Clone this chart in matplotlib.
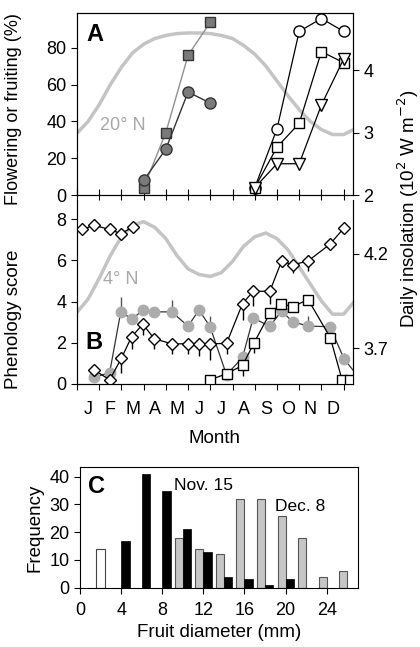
import numpy as np
import matplotlib.pyplot as plt

plt.rcParams['font.family'] = ['Liberation Sans', 'DejaVu Sans']
plt.rcParams['font.size'] = 13

month_labels = ['J', 'F', 'M', 'A', 'M', 'J', 'J', 'A', 'S', 'O', 'N', 'D']

# --- A: flowering / fruiting (%) ---
a_gray_m = [3, 4, 5, 6]
a_gray_sq = [4, 34, 76, 94]
a_gray_ci = [8, 25, 56, 50]
a_open_m = [8, 9, 10, 11, 12]
a_open_ci = [4, 36, 89, 96, 89]
a_open_sq = [4, 26, 39, 78, 72]
a_open_tri = [4, 17, 17, 49, 74]

# insolation curves, read every half month
ins_m = np.arange(0, 12.51, 0.5)
ins_20n = [2.99, 3.18, 3.45, 3.77, 4.05, 4.28, 4.42, 4.51, 4.56, 4.59, 4.60, 4.60, 4.59,
           4.56, 4.51, 4.40, 4.26, 4.07, 3.83, 3.59, 3.37, 3.18, 3.05, 2.97, 2.97, 3.06]
ins_4n = [3.89, 3.96, 4.07, 4.19, 4.29, 4.35, 4.37, 4.34, 4.28, 4.19, 4.12, 4.09, 4.08,
          4.10, 4.16, 4.24, 4.29, 4.31, 4.28, 4.22, 4.13, 4.04, 3.95, 3.88, 3.88, 3.95]

# --- B: phenology score ---
b_top_m = [0.23, 0.77, 1.47, 1.97, 2.5]
b_top_dia = [7.5, 7.7, 7.5, 7.3, 7.6]
b_dia_m = [0.75, 1.47, 2.0, 2.46, 2.97, 3.47, 4.26, 5.0, 5.49, 5.99, 6.73, 7.45, 7.93,
           8.68, 9.21, 9.7, 10.4, 11.38, 12.03]
b_dia = [0.7, 0.2, 1.25, 2.3, 2.9, 2.2, 1.95, 1.95, 1.95, 1.95, 1.97, 3.9, 4.5, 4.5,
         5.97, 5.78, 5.97, 6.78, 7.59]
b_dia_err = [0.3, 0.1, 0.7, 0.6, 0.5, 0.5, 0.5, 0.5, 0.6, 0.8, 0.5, 0.8, 0.7, 0.6,
             0.3, 0.4, 0.5, 0.3, 0.3]
b_ci_m = [0.77, 1.47, 1.97, 2.48, 2.97, 3.47, 4.26, 5.0, 5.49, 5.99, 6.73, 7.45, 7.93,
          8.68, 9.21, 9.7, 10.4, 11.38, 12.03, 12.7]
b_ci = [0.32, 0.55, 3.5, 3.15, 3.59, 3.5, 3.5, 2.81, 3.59, 2.78, 0.44, 1.29, 3.2,
        2.8, 3.55, 3.02, 2.81, 2.78, 1.2, 0.3]
b_ci_err = [0, 0, 0.7, 0, 0.2, 0, 0.6, 0, 0, 0.5, 0, 0, 0, 0, 0.4, 0, 0.5, 0, 0.3, 0]
b_sq_m = [5.99, 6.73, 7.45, 7.97, 8.68, 9.2, 9.7, 10.4, 11.4, 11.93, 12.3]
b_sq = [0.2, 0.5, 0.9, 2.0, 3.43, 3.9, 3.75, 4.1, 2.25, 0.2, 0.2]
b_sq_err = [0, 0, 0.5, 0.5, 0, 0, 0, 0, 0, 0, 0]

# --- C: fruit diameter histogram ---
early_diam = [2]
early_freq = [14]
nov_diam = [4, 6, 8, 10, 12, 14, 16, 18, 20]
nov_freq = [17, 41, 35, 21, 13, 4, 3, 1, 3]
dec_diam = [10, 12, 14, 16, 18, 20, 22, 24, 26]
dec_freq = [18, 14, 12, 32, 32, 26, 18, 4, 6]

curve_col = '#c4c4c4'
fig = plt.figure(figsize=(4.2, 6.47), dpi=100)

# ---------------- panel A ----------------
axA = fig.add_axes([0.1833, 0.6986, 0.6571, 0.2813])
axA2 = axA.twinx()
axA.set_zorder(axA2.get_zorder() + 1)
axA.patch.set_visible(False)
axA2.plot(ins_m, ins_20n, color=curve_col, lw=2.5, solid_joinstyle='round')
axA2.set_ylim(2, 4.92)
axA2.set_yticks([2, 3, 4])

axA.plot(a_gray_m, a_gray_sq, '-s', color='#909090', mfc='#7a7a7a', mec='#333333', ms=6.5, lw=1)
axA.plot(a_gray_m, a_gray_ci, '-o', color='#333333', mfc='#7a7a7a', mec='#333333', ms=8, lw=1)
axA.plot(a_open_m, a_open_ci, '-o', color='k', mfc='white', mec='k', ms=8, lw=0.9)
axA.plot(a_open_m, a_open_sq, '-s', color='k', mfc='white', mec='k', ms=7, lw=0.9)
axA.plot(a_open_m, a_open_tri, '-v', color='k', mfc='white', mec='k', ms=8.5, lw=0.9)
axA.set_xlim(0, 12.42)
axA.set_ylim(0, 99)
axA.set_yticks([0, 20, 40, 60, 80])
axA.set_xticks(range(13))
axA.set_xticklabels([])
axA.tick_params(axis='x', direction='in', length=4)
axA.tick_params(axis='y', direction='out', length=4)
axA2.tick_params(axis='y', direction='out', length=4)
axA.set_ylabel('Flowering or fruiting (%)')
axA.yaxis.set_label_coords(-0.2, 0.47)
axA.text(0.035, 0.88, 'A', transform=axA.transAxes, fontsize=17, fontweight='bold', va='center')
axA.text(0.083, 0.38, '20° N', transform=axA.transAxes, color='#a8a8a8', fontsize=13, va='center')

# ---------------- panel B ----------------
axB = fig.add_axes([0.1833, 0.4065, 0.6571, 0.2844])
axB2 = axB.twinx()
axB.set_zorder(axB2.get_zorder() + 1)
axB.patch.set_visible(False)
axB2.plot(ins_m, ins_4n, color=curve_col, lw=2.5, solid_joinstyle='round')
axB2.set_ylim(3.51, 4.485)
axB2.set_yticks([3.7, 4.2])
axB2.set_yticklabels(['3.7', '4.2'])

axB.plot(b_top_m, b_top_dia, '-D', color='k', mfc='white', mec='k', ms=6.5, lw=0.9)
axB.errorbar(b_ci_m, b_ci, yerr=[np.zeros(len(b_ci)), b_ci_err], fmt='-o', color='#333333',
             ecolor='#555555', mfc='#acacac', mec='#acacac', ms=7.5, lw=0.9, elinewidth=1, capsize=0)
axB.errorbar(b_sq_m, b_sq, yerr=[b_sq_err, np.zeros(len(b_sq))], fmt='-s', color='k',
             mfc='white', mec='k', ms=6.5, lw=0.9, elinewidth=1, capsize=0)
axB.errorbar(b_dia_m, b_dia, yerr=[b_dia_err, np.zeros(len(b_dia))], fmt='-D', color='k',
             mfc='white', mec='k', ms=6.5, lw=0.9, elinewidth=1, capsize=0)
axB.set_xlim(0, 12.42)
axB.set_ylim(0, 8.93)
axB.set_yticks([0, 2, 4, 6, 8])
axB.set_xticks(range(13))
axB.set_xticklabels([])
axB.set_xticks(np.arange(0.5, 12, 1), minor=True)
axB.set_xticklabels(month_labels, minor=True)
axB.tick_params(axis='x', which='major', direction='out', length=4, top=True)
axB.tick_params(axis='x', which='minor', length=0, pad=12)
axB.tick_params(axis='y', direction='out', length=4)
axB2.tick_params(axis='y', direction='out', length=4)
axB.spines['top'].set_visible(False)
axB2.spines['top'].set_visible(False)
axB.set_xlabel('Month', labelpad=9, fontsize=13.5)
axB.set_ylabel('Phenology score', fontsize=13.5)
axB.yaxis.set_label_coords(-0.2, 0.35)
axB.text(0.03, 0.225, 'B', transform=axB.transAxes, fontsize=17, fontweight='bold', va='center')
axB.text(0.094, 0.57, '4° N', transform=axB.transAxes, color='#a8a8a8', fontsize=13, va='center')

fig.text(0.972, 0.678, 'Daily insolation (10$^2$ W m$^{-2}$)', rotation=90,
         ha='center', va='center', fontsize=13.5)

# ---------------- panel C ----------------
axC = fig.add_axes([0.1905, 0.0917, 0.6626, 0.1861])
axC.bar(early_diam, early_freq, width=0.95, color='white', edgecolor='#444444', lw=0.8)
axC.bar(dec_diam, dec_freq, width=-0.78, align='edge', color='#c6c6c6', edgecolor='#555555', lw=0.8)
axC.bar(nov_diam, nov_freq, width=0.82, align='edge', color='black', edgecolor='black', lw=0.5)
axC.set_xlim(0, 27.07)
axC.set_ylim(0, 43.4)
axC.set_xticks([0, 4, 8, 12, 16, 20, 24])
axC.set_yticks([0, 10, 20, 30, 40])
axC.tick_params(direction='out', length=4)
axC.tick_params(axis='x', pad=6)
axC.set_xlabel('Fruit diameter (mm)', labelpad=4, fontsize=13.5)
axC.set_ylabel('Frequency', fontsize=13.5)
axC.text(0.8, 36.6, 'C', fontsize=17, fontweight='bold', va='center')
axC.text(9.1, 37, 'Nov. 15', va='center', fontsize=12.5)
axC.text(19.0, 29.2, 'Dec. 8', va='center', fontsize=12.5)

fig.savefig('out.png', dpi=100)
